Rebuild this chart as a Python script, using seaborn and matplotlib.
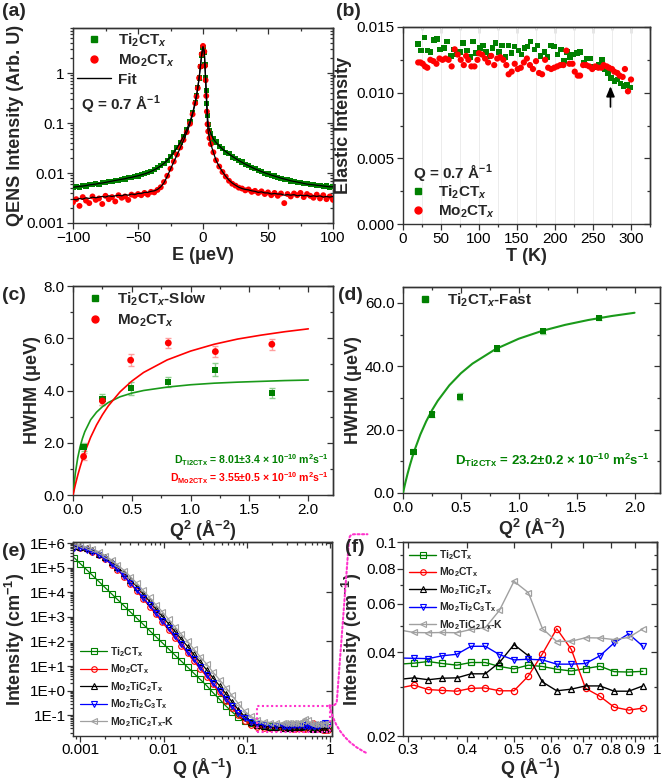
import numpy as np
import pandas as pd
import matplotlib
matplotlib.use("Agg")
import matplotlib.pyplot as plt
import seaborn as sns
from matplotlib.ticker import MultipleLocator, FixedLocator, FixedFormatter, NullFormatter, LogLocator, FormatStrFormatter
from matplotlib.lines import Line2D
from matplotlib.patches import Rectangle, ConnectionPatch

sns.set_style("ticks")
plt.rcParams["font.family"] = ["Liberation Sans", "DejaVu Sans"]
plt.rcParams.update({
    "mathtext.fontset": "custom",
    "mathtext.rm": "Liberation Sans:bold",
    "mathtext.it": "Liberation Sans:bold:italic",
    "mathtext.bf": "Liberation Sans:bold",
    "mathtext.sf": "Liberation Sans:bold",
    "axes.linewidth": 1.0,
    "axes.edgecolor": "#333333",
    "xtick.color": "#333333",
    "ytick.color": "#333333",
    "xtick.labelcolor": "black",
    "ytick.labelcolor": "black",
})

GREEN = "#008000"
RED = "#ff0000"
BLUE = "#0000ff"
GRAY = "#a0a0a0"
BLACK = "#000000"
MAG = "#ff33cc"

# ---------------- (a) QENS spectra at Q = 0.7 1/A ----------------
E_a = [-100, -97.5, -95, -92.5, -90, -87.5, -85, -82.5, -80, -77.5, -75, -72.5, -70, -67.5, -65, -62.5,
       -60, -57.5, -55, -52.5, -50, -47.5, -45, -42.5, -40, -37.5, -35, -32.5, -30, -27.5, -25, -22.5,
       -20, -17.5, -15, -12.5, -10,
       -8, -6, -5, -4, -3, -2, -1, 0, 1, 1.5, 2, 2.5, 3, 3.5, 4, 5, 6, 8,
       10, 12.5, 15, 17.5, 20, 22.5, 25, 27.5, 30, 32.5, 35, 37.5, 40, 42.5, 45, 47.5, 50, 52.5,
       55, 57.5, 60, 62.5, 65, 67.5, 70, 72.5, 75, 77.5, 80, 82.5, 85, 87.5, 90, 92.5, 95, 97.5, 100]
qens_ti = [0.0051, 0.0054, 0.0052, 0.0056, 0.0055, 0.0059, 0.0058, 0.0061, 0.0060, 0.0065, 0.0064, 0.0068,
           0.0067, 0.0071, 0.0072, 0.0075, 0.0076, 0.0080, 0.0081, 0.0086, 0.0087, 0.0093, 0.0097, 0.0102,
           0.0109, 0.0117, 0.0127, 0.0140, 0.0157, 0.0180, 0.0215, 0.026, 0.032, 0.041, 0.054, 0.075, 0.108,
           0.16, 0.26, 0.36, 0.52, 0.80, 1.35, 2.3, 3.3, 2.6, 1.5, 0.8, 0.45, 0.25, 0.14, 0.095, 0.072, 0.062, 0.048,
           0.042, 0.034, 0.031, 0.026, 0.0245, 0.021, 0.0198, 0.0175, 0.0166, 0.0148, 0.0142, 0.0128, 0.0123,
           0.0111, 0.0108, 0.0099, 0.0096, 0.0089, 0.0087, 0.0081, 0.0079, 0.0074, 0.0073, 0.0069, 0.0068,
           0.0064, 0.0064, 0.0061, 0.0061, 0.0058, 0.0058, 0.0056, 0.0056, 0.0054, 0.0055, 0.0052, 0.0054]
qens_mo = [0.0026, 0.0030, 0.0022, 0.0033, 0.0028, 0.0025, 0.0034, 0.0029, 0.0031, 0.0024, 0.0035, 0.0030,
           0.0033, 0.0027, 0.0036, 0.0032, 0.0034, 0.0029, 0.0037, 0.0035, 0.0038, 0.0036, 0.0040, 0.0037,
           0.0042, 0.0041, 0.0046, 0.0052, 0.0066, 0.0088, 0.0122, 0.0170, 0.0235, 0.0325, 0.046, 0.066, 0.097,
           0.15, 0.25, 0.34, 0.50, 0.80, 1.35, 2.4, 3.5, 2.7, 1.4, 0.72, 0.35, 0.17, 0.095, 0.068, 0.050, 0.038, 0.026,
           0.018, 0.0135, 0.0105, 0.0085, 0.0070, 0.0061, 0.0056, 0.0051, 0.0049, 0.0045, 0.0047, 0.0042, 0.0044,
           0.0040, 0.0043, 0.0038, 0.0041, 0.0036, 0.0040, 0.0035, 0.0039, 0.0025, 0.0038, 0.0034, 0.0039,
           0.0036, 0.0040, 0.0033, 0.0038, 0.0035, 0.0032, 0.0037, 0.0031, 0.0036, 0.0030, 0.0034, 0.0029]
fit_ti = [0.0052, 0.0053, 0.0054, 0.0055, 0.0056, 0.0058, 0.0059, 0.0060, 0.0062, 0.0063, 0.0065, 0.0067,
          0.0069, 0.0071, 0.0073, 0.0075, 0.0077, 0.0080, 0.0082, 0.0085, 0.0088, 0.0092, 0.0096, 0.0101,
          0.0108, 0.0116, 0.0126, 0.0139, 0.0156, 0.0180, 0.0213, 0.026, 0.032, 0.041, 0.054, 0.075, 0.107,
          0.16, 0.26, 0.36, 0.52, 0.80, 1.35, 2.3, 3.3, 2.6, 1.5, 0.8, 0.45, 0.25, 0.14, 0.095, 0.072, 0.062, 0.048,
          0.041, 0.035, 0.030, 0.027, 0.024, 0.0216, 0.0196, 0.0178, 0.0164, 0.0151, 0.0140, 0.0130, 0.0121,
          0.0114, 0.0107, 0.0101, 0.0096, 0.0091, 0.0087, 0.0083, 0.0079, 0.0076, 0.0073, 0.0070, 0.0068,
          0.0066, 0.0064, 0.0062, 0.0060, 0.0059, 0.0058, 0.0057, 0.0056, 0.0055, 0.0054, 0.0053, 0.0053]
fit_mo = [0.0030, 0.0029, 0.0031, 0.0030, 0.0032, 0.0031, 0.0033, 0.0032, 0.0033, 0.0034, 0.0033, 0.0035,
          0.0034, 0.0035, 0.0036, 0.0035, 0.0037, 0.0036, 0.0038, 0.0037, 0.0039, 0.0039, 0.0041, 0.0041,
          0.0043, 0.0044, 0.0047, 0.0053, 0.0064, 0.0086, 0.0120, 0.0168, 0.023, 0.032, 0.045, 0.065, 0.096,
          0.15, 0.25, 0.34, 0.50, 0.80, 1.35, 2.4, 3.4, 2.7, 1.4, 0.72, 0.35, 0.17, 0.095, 0.068, 0.050, 0.038, 0.026,
          0.018, 0.0135, 0.0106, 0.0086, 0.0072, 0.0063, 0.0057, 0.0052, 0.0049, 0.0047, 0.0046, 0.0044, 0.0043,
          0.0041, 0.0042, 0.0040, 0.0040, 0.0038, 0.0039, 0.0038, 0.0038, 0.0036, 0.0037, 0.0036, 0.0037,
          0.0035, 0.0036, 0.0035, 0.0036, 0.0034, 0.0035, 0.0034, 0.0035, 0.0033, 0.0034, 0.0033, 0.0034]

# ---------------- (b) elastic intensity vs T ----------------
T_ti = [20, 24, 28, 32, 36, 41, 45, 49, 54, 58, 63, 67, 71, 75, 79, 84, 88, 92, 96, 101, 105, 109, 114, 118,
        122, 126, 130, 135, 139, 143, 147, 152, 156, 160, 164, 168, 173, 177, 181, 186, 190, 195, 199, 203,
        208, 212, 216, 220, 224, 229, 233, 238, 242, 246, 250, 254, 258, 262, 266, 270, 274, 278, 282, 286,
        290, 295, 299]
el_ti = [0.0137, 0.0132, 0.0142, 0.0132, 0.0131, 0.0140, 0.0141, 0.0133, 0.0134, 0.0139, 0.0128, 0.0133,
         0.0129, 0.0131, 0.0138, 0.0132, 0.0127, 0.0139, 0.0130, 0.0134, 0.0136, 0.0131, 0.0128, 0.0134,
         0.0138, 0.0131, 0.0136, 0.0127, 0.0136, 0.0130, 0.0135, 0.0132, 0.0129, 0.0134, 0.0135, 0.0139,
         0.0133, 0.0136, 0.0128, 0.0131, 0.0127, 0.0136, 0.0135, 0.0129, 0.0133, 0.0124, 0.0131, 0.0127,
         0.0129, 0.0130, 0.0131, 0.0123, 0.0126, 0.0126, 0.0120, 0.0119, 0.0121, 0.0125, 0.0118, 0.0115,
         0.0111, 0.0109, 0.0110, 0.0107, 0.0105, 0.0106, 0.0104]
T_mo = [20, 23, 26, 29, 32, 36, 40, 44, 48, 52, 56, 60, 64, 68, 72, 76, 80, 83, 86, 90, 94, 98, 100, 104,
        108, 112, 116, 120, 124, 128, 132, 136, 139, 143, 147, 151, 155, 159, 163, 167, 171, 175, 179, 183,
        187, 191, 195, 199, 203, 207, 211, 215, 219, 223, 226, 230, 233, 237, 241, 245, 249, 253, 257, 261,
        264, 268, 271, 275, 278, 282, 285, 289, 292, 296, 300]
el_mo = [0.0123, 0.0123, 0.0122, 0.0120, 0.0119, 0.0125, 0.0124, 0.0122, 0.0126, 0.0125, 0.0126, 0.0125,
         0.0120, 0.0133, 0.0129, 0.0125, 0.0121, 0.0128, 0.0125, 0.0120, 0.0120, 0.0125, 0.0130, 0.0129,
         0.0126, 0.0123, 0.0128, 0.0121, 0.0126, 0.0127, 0.0125, 0.0121, 0.0114, 0.0116, 0.0122, 0.0118,
         0.0119, 0.0123, 0.0126, 0.0121, 0.0118, 0.0124, 0.0115, 0.0114, 0.0125, 0.0119, 0.0118, 0.0119,
         0.0120, 0.0121, 0.0121, 0.0132, 0.0122, 0.0122, 0.0116, 0.0113, 0.0113, 0.0121, 0.0121, 0.0120,
         0.0118, 0.0120, 0.0119, 0.0119, 0.0121, 0.0120, 0.0119, 0.0118, 0.0116, 0.0115, 0.0113, 0.0112,
         0.0118, 0.0101, 0.0110]

# ---------------- (c), (d) HWHM vs Q^2 ----------------
Q2 = [0.09, 0.25, 0.49, 0.81, 1.21, 1.69]
hw_slow = [1.85, 3.66, 4.09, 4.32, 4.79, 3.90]
hw_slow_err = [0.15, 0.22, 0.25, 0.18, 0.25, 0.2]
hw_mo = [1.47, 3.60, 5.16, 5.82, 5.49, 5.77]
hw_mo_err = [0.12, 0.15, 0.22, 0.2, 0.2, 0.22]
hw_fast = [13.0, 24.8, 30.4, 45.6, 51.1, 55.2]
hw_fast_err = [0.8, 0.8, 1.2, 0.9, 0.8, 0.7]
Q2_fit = [0, 0.02, 0.04, 0.06, 0.08, 0.1, 0.15, 0.2, 0.25, 0.3, 0.4, 0.5, 0.6, 0.8, 1.0, 1.2, 1.4, 1.6, 1.8, 2.0]
fit_slow = [0, 0.84, 1.42, 1.84, 2.16, 2.42, 2.88, 3.17, 3.38, 3.54, 3.76, 3.90, 4.00, 4.13, 4.22, 4.28, 4.32, 4.35, 4.38, 4.40]
fit_mo_c = [0, 0.395, 0.75, 1.07, 1.36, 1.63, 2.21, 2.68, 3.07, 3.41, 3.95, 4.36, 4.69, 5.17, 5.51, 5.77, 5.97, 6.12, 6.25, 6.36]
fit_fast = [0, 3.21, 6.14, 8.81, 11.27, 13.53, 18.47, 22.59, 26.09, 29.09, 33.97, 37.78, 40.82, 45.41, 48.68, 51.14, 53.05, 54.58, 55.83, 56.87]

# ---------------- (e), (f) SANS ----------------
names = ["Ti$_2$CT$_\\mathrm{x}$", "Mo$_2$CT$_\\mathrm{x}$", "Mo$_2$TiC$_2$T$_\\mathrm{x}$",
         "Mo$_2$Ti$_2$C$_3$T$_\\mathrm{x}$", "Mo$_2$TiC$_2$T$_\\mathrm{x}$-K"]
q_low = [0.00085, 0.001, 0.0012, 0.0014, 0.0017, 0.002, 0.0024, 0.0028, 0.0034, 0.004, 0.0048, 0.0057,
         0.0068, 0.0081, 0.0097, 0.0115, 0.0137, 0.0163, 0.0195, 0.023, 0.0275, 0.033, 0.039, 0.047,
         0.056, 0.066, 0.079, 0.094, 0.112, 0.134, 0.16, 0.19, 0.225, 0.268]
low_ti = [2.5e5, 1.47e5, 8.1e4, 4.9e4, 2.6e4, 1.52e4, 8.4e3, 5.1e3, 2.7e3, 1.58e3, 870, 500, 278, 157, 87,
          50, 28, 16, 9, 5.2, 2.9, 1.6, 0.85, 0.45, 0.24, 0.14, 0.085, 0.06, 0.048, 0.042, 0.039, 0.037,
          0.0365, 0.0365]
low_mo = [7e5, 6.5e5, 5.5e5, 4.5e5, 3.2e5, 2.2e5, 1.3e5, 8e4, 4.2e4, 2.2e4, 1.1e4, 5.3e3, 2.6e3, 1.25e3,
          6e2, 2.9e2, 1.4e2, 68, 33, 16, 7.8, 3.7, 1.8, 0.85, 0.4, 0.2, 0.1, 0.06, 0.042, 0.035, 0.032, 0.031,
          0.030, 0.030]
low_motic = [7.5e5, 7e5, 6e5, 5e5, 3.7e5, 2.6e5, 1.65e5, 1.05e5, 5.8e4, 3.2e4, 1.7e4, 8.5e3, 4.3e3, 2.1e3,
             1.05e3, 5.2e2, 2.6e2, 1.25e2, 62, 30, 14.5, 7, 3.4, 1.6, 0.75, 0.36, 0.17, 0.09, 0.055, 0.042,
             0.036, 0.034, 0.033, 0.032]
low_moti2 = [6.5e5, 6.2e5, 5.3e5, 4.4e5, 3.2e5, 2.2e5, 1.35e5, 8.5e4, 4.5e4, 2.4e4, 1.2e4, 6e3, 3e3, 1.45e3,
             7e2, 3.4e2, 1.65e2, 80, 39, 19, 9.2, 4.4, 2.1, 1.0, 0.48, 0.24, 0.12, 0.075, 0.053, 0.045, 0.041,
             0.039, 0.038, 0.038]
low_motick = [8.5e5, 8e5, 7e5, 5.8e5, 4.3e5, 3.1e5, 2e5, 1.3e5, 7.5e4, 4.3e4, 2.3e4, 1.2e4, 6.2e3, 3.1e3,
              1.6e3, 8e2, 4e2, 2e2, 1e2, 50, 24, 12, 5.8, 2.8, 1.35, 0.65, 0.3, 0.15, 0.09, 0.065, 0.055,
              0.051, 0.049, 0.048]
q_f = [0.288, 0.309, 0.331, 0.354, 0.380, 0.407, 0.436, 0.467, 0.501, 0.537, 0.575, 0.616, 0.661, 0.708,
       0.759, 0.813, 0.872, 0.934]
f_ti = [0.0363, 0.0366, 0.0371, 0.0365, 0.0360, 0.0368, 0.0368, 0.0356, 0.0349, 0.0360, 0.0356, 0.0348,
        0.0343, 0.0350, 0.0357, 0.0341, 0.0340, 0.0342]
f_mo = [0.0298, 0.0305, 0.0294, 0.0292, 0.0290, 0.0297, 0.0298, 0.0291, 0.0291, 0.0329, 0.0396, 0.0487,
        0.0410, 0.0297, 0.0278, 0.0254, 0.0248, 0.0252]
f_motic = [0.0320, 0.0324, 0.0319, 0.0323, 0.0324, 0.0335, 0.0335, 0.0368, 0.0427, 0.0389, 0.0313, 0.0291,
           0.0295, 0.0303, 0.0303, 0.0290, 0.0290, 0.0303]
f_moti2 = [0.0382, 0.0381, 0.0380, 0.0389, 0.0394, 0.0421, 0.0421, 0.0393, 0.0376, 0.0378, 0.0376, 0.0363,
           0.0363, 0.0365, 0.0389, 0.0433, 0.0467, 0.0421]
f_motick = [0.0482, 0.0472, 0.0471, 0.0472, 0.0471, 0.0484, 0.0491, 0.0567, 0.0722, 0.0657, 0.0487, 0.0438,
            0.0439, 0.0452, 0.0451, 0.0445, 0.0453, 0.0487]

W, H = 664, 781
fig = plt.figure(figsize=(W / 100, H / 100), dpi=100)


def box(l, t, r, b):
    return [l / W, 1 - b / H, (r - l) / W, (b - t) / H]


def style(ax, xminor=None, yminor=None, pad=2):
    ax.tick_params(which="both", direction="out", labelsize=11, width=0.9, pad=pad)
    ax.tick_params(which="major", length=4)
    ax.tick_params(which="minor", length=2)
    if xminor is not None:
        ax.xaxis.set_minor_locator(xminor)
    if yminor is not None:
        ax.yaxis.set_minor_locator(yminor)
    for s in ax.spines.values():
        s.set_visible(True)


def mirror(ax, xminor=None, yminor=None, xmajor=None, ymajor=None):
    sx = ax.secondary_xaxis("top")
    sy = ax.secondary_yaxis("right")
    for s, lab in ((sx, dict(labeltop=False)), (sy, dict(labelright=False))):
        s.tick_params(which="both", direction="in", width=0.9, **lab)
        s.tick_params(which="major", length=4)
        s.tick_params(which="minor", length=2)
    if xmajor is not None:
        sx.xaxis.set_major_locator(xmajor)
    if ymajor is not None:
        sy.yaxis.set_major_locator(ymajor)
    if xminor is not None:
        sx.xaxis.set_minor_locator(xminor)
    if yminor is not None:
        sy.yaxis.set_minor_locator(yminor)
    sx.xaxis.set_minor_formatter(NullFormatter())
    sy.yaxis.set_minor_formatter(NullFormatter())


LAB = dict(fontsize=13, fontweight="bold")
LEG = dict(weight="bold", size=11)

# ======== (a) ========
ax = fig.add_axes(box(73, 28, 333, 223))
dfa = pd.DataFrame({"E": E_a, "ti": qens_ti, "mo": qens_mo, "fti": fit_ti, "fmo": fit_mo})
sns.scatterplot(data=dfa, x="E", y="ti", marker="s", s=14, color=GREEN, edgecolor="none", ax=ax, zorder=3, legend=False)
sns.scatterplot(data=dfa, x="E", y="mo", marker="o", s=18, color=RED, edgecolor="none", ax=ax, zorder=4, legend=False)
sns.lineplot(data=dfa, x="E", y="fti", color=BLACK, lw=0.9, ax=ax, sort=False, estimator=None, zorder=5)
sns.lineplot(data=dfa, x="E", y="fmo", color=BLACK, lw=0.9, ax=ax, sort=False, estimator=None, zorder=5)
ax.set_yscale("log")
ax.set_xlim(-100, 100)
ax.set_ylim(0.001, 8)
ax.set_xticks([-100, -50, 0, 50, 100])
ax.set_yticks([0.001, 0.01, 0.1, 1])
ax.set_yticklabels(["0.001", "0.01", "0.1", "1"])
ax.yaxis.set_minor_locator(LogLocator(base=10, subs=np.arange(2, 10)))
ax.yaxis.set_minor_formatter(NullFormatter())
style(ax, xminor=MultipleLocator(25))
mirror(ax, xminor=MultipleLocator(25), xmajor=FixedLocator([-100, -50, 0, 50, 100]))
ax.set_xlabel("E (\u03bceV)", labelpad=1, **LAB)
ax.set_ylabel("QENS Intensity (Arb. U)", labelpad=2, **LAB)
hA = [Line2D([], [], marker="s", ls="none", color=GREEN, ms=4.5),
      Line2D([], [], marker="o", ls="none", color=RED, ms=5),
      Line2D([], [], color=BLACK, lw=1)]
ax.legend(hA, ["Ti$_2$CT$_x$", "Mo$_2$CT$_x$", "Fit"], loc="upper left", bbox_to_anchor=(-0.02, 1.03),
          frameon=False, prop=LEG, handlelength=2.2, handletextpad=0.5, labelspacing=0.25, borderaxespad=0.2)
ax.text(0.03, 0.615, "Q = 0.7 \u00c5$^{-1}$", transform=ax.transAxes, fontsize=11, fontweight="bold", va="center")

# ======== (b) ========
ax = fig.add_axes(box(403, 27, 650, 224))
dfb1 = pd.DataFrame({"T": T_ti, "I": el_ti})
dfb2 = pd.DataFrame({"T": T_mo, "I": el_mo})
sns.scatterplot(data=dfb1, x="T", y="I", marker="s", s=16, color=GREEN, edgecolor="none", ax=ax, zorder=3, legend=False)
sns.scatterplot(data=dfb2, x="T", y="I", marker="o", s=20, color=RED, edgecolor="none", ax=ax, zorder=4, legend=False)
ax.set_xlim(0, 325)
ax.set_ylim(0, 0.015)
ax.set_xticks([0, 50, 100, 150, 200, 250, 300])
ax.set_yticks([0, 0.005, 0.010, 0.015])
ax.yaxis.set_major_formatter(FormatStrFormatter("%.3f"))
style(ax, xminor=MultipleLocator(25), yminor=MultipleLocator(0.0025))
mirror(ax, xminor=MultipleLocator(25), yminor=MultipleLocator(0.0025),
       xmajor=MultipleLocator(50), ymajor=MultipleLocator(0.005))
ax.grid(axis="x", which="both", color="#ececec", lw=0.7, zorder=0)
ax.set_axisbelow(True)
ax.set_xlabel("T (K)", labelpad=1, **LAB)
ax.set_ylabel("Elastic Intensity", labelpad=3, **LAB)
ax.annotate("", xy=(273, 0.0107), xytext=(273, 0.0087),
            arrowprops=dict(arrowstyle="-|>,head_length=0.6,head_width=0.25", color="black", lw=1.2))
ax.text(0.04, 0.259, "Q = 0.7 \u00c5$^{-1}$", transform=ax.transAxes, fontsize=11, fontweight="bold", va="center")
hB = [Line2D([], [], marker="s", ls="none", color=GREEN, ms=4.5),
      Line2D([], [], marker="o", ls="none", color=RED, ms=5)]
ax.legend(hB, ["Ti$_2$CT$_x$", "Mo$_2$CT$_x$"], loc="center left", bbox_to_anchor=(0.0, 0.114),
          frameon=False, prop=LEG, handlelength=1.5, handletextpad=0.6, labelspacing=0.2, borderaxespad=0.0,
          borderpad=0.2)

# ======== (c) ========
ax = fig.add_axes(box(73, 286, 333, 495))
ax.errorbar(Q2, hw_slow, yerr=hw_slow_err, fmt="none", ecolor="#8fcf8f", elinewidth=1, capsize=2, zorder=2)
ax.errorbar(Q2, hw_mo, yerr=hw_mo_err, fmt="none", ecolor="#ff9f9f", elinewidth=1, capsize=2, zorder=2)
dfc = pd.DataFrame({"q": Q2, "s": hw_slow, "m": hw_mo})
dff = pd.DataFrame({"q": Q2_fit, "s": fit_slow, "m": fit_mo_c, "f": fit_fast})
sns.lineplot(data=dff, x="q", y="s", color="#1a9a1a", lw=1.2, ax=ax, estimator=None, zorder=3)
sns.lineplot(data=dff, x="q", y="m", color=RED, lw=1.2, ax=ax, estimator=None, zorder=3)
sns.scatterplot(data=dfc, x="q", y="s", marker="s", s=20, color=GREEN, edgecolor="none", ax=ax, zorder=4, legend=False)
sns.scatterplot(data=dfc, x="q", y="m", marker="o", s=24, color=RED, edgecolor="none", ax=ax, zorder=4, legend=False)
ax.set_xlim(0, 2.21)
ax.set_ylim(0, 8)
ax.set_xticks([0, 0.5, 1.0, 1.5, 2.0])
ax.set_yticks([0, 2, 4, 6, 8])
ax.xaxis.set_major_formatter(FormatStrFormatter("%.1f"))
ax.yaxis.set_major_formatter(FormatStrFormatter("%.1f"))
style(ax, xminor=MultipleLocator(0.25), yminor=MultipleLocator(1))
mirror(ax, xminor=MultipleLocator(0.25), yminor=MultipleLocator(1),
       xmajor=MultipleLocator(0.5), ymajor=MultipleLocator(2))
ax.set_xlabel("Q$^2$ (\u00c5$^{-2}$)", labelpad=1, **LAB)
ax.set_ylabel("HWHM (\u03bceV)", labelpad=2, **LAB)
hC = [Line2D([], [], marker="s", ls="none", color=GREEN, ms=4.5),
      Line2D([], [], marker="o", ls="none", color=RED, ms=5)]
ax.legend(hC, ["Ti$_2$CT$_x$-Slow", "Mo$_2$CT$_x$"], loc="upper left", bbox_to_anchor=(0.0, 1.03),
          frameon=False, prop=LEG, handlelength=1.5, handletextpad=0.7, labelspacing=0.3, borderaxespad=0.3)
ax.text(0.985, 0.165, "D$_{\\mathrm{Ti2CTx}}$ = 8.01\u00b13.4 \u00d7 10$^{-10}$ m$^2$s$^{-1}$", color=GREEN,
        transform=ax.transAxes, ha="right", va="center", fontsize=7.6, fontweight="bold")
ax.text(0.985, 0.08, "D$_{\\mathrm{Mo2CTx}}$ = 3.55\u00b10.5 \u00d7 10$^{-10}$ m$^2$s$^{-1}$", color=RED,
        transform=ax.transAxes, ha="right", va="center", fontsize=7.6, fontweight="bold")

# ======== (d) ========
ax = fig.add_axes(box(403, 287, 660, 493))
ax.errorbar(Q2, hw_fast, yerr=hw_fast_err, fmt="none", ecolor="#8fcf8f", elinewidth=1, capsize=2, zorder=2)
dfd = pd.DataFrame({"q": Q2, "f": hw_fast})
sns.lineplot(data=dff, x="q", y="f", color="#1a9a1a", lw=1.5, ax=ax, estimator=None, zorder=3)
sns.scatterplot(data=dfd, x="q", y="f", marker="s", s=20, color=GREEN, edgecolor="none", ax=ax, zorder=4, legend=False)
ax.set_xlim(0, 2.22)
ax.set_ylim(0, 65)
ax.set_xticks([0, 0.5, 1.0, 1.5, 2.0])
ax.set_yticks([0, 20, 40, 60])
ax.xaxis.set_major_formatter(FormatStrFormatter("%.1f"))
ax.yaxis.set_major_formatter(FormatStrFormatter("%.1f"))
style(ax, xminor=MultipleLocator(0.25), yminor=MultipleLocator(10))
mirror(ax, xminor=MultipleLocator(0.25), yminor=MultipleLocator(10),
       xmajor=MultipleLocator(0.5), ymajor=MultipleLocator(20))
ax.set_xlabel("Q$^2$ (\u00c5$^{-2}$)", labelpad=1, **LAB)
ax.set_ylabel("HWHM (\u03bceV)", labelpad=2, **LAB)
ax.legend([Line2D([], [], marker="s", ls="none", color=GREEN, ms=4.5)], ["Ti$_2$CT$_x$-Fast"],
          loc="upper left", bbox_to_anchor=(0.0, 1.03), frameon=False, prop=LEG, handlelength=1.5,
          handletextpad=0.7, borderaxespad=0.3)
ax.text(0.96, 0.16, "D$_{\\mathrm{Ti2CTx}}$ = 23.2\u00b10.2 \u00d7 10$^{-10}$ m$^2$s$^{-1}$", color=GREEN,
        transform=ax.transAxes, ha="right", va="center", fontsize=9.5, fontweight="bold")

# ======== (e) ========
axe = fig.add_axes(box(73, 542, 332, 736))
series_e = [(low_ti + f_ti, GREEN, "s"), (low_mo + f_mo, RED, "o"), (low_motic + f_motic, BLACK, "^"),
            (low_moti2 + f_moti2, BLUE, "v"), (low_motick + f_motick, GRAY, "<")]
qe = q_low + q_f
for vals, c, m in series_e:
    d = pd.DataFrame({"q": qe, "I": vals})
    sns.lineplot(data=d, x="q", y="I", color=c, lw=0.9, marker=m, mfc="none", mec=c, ms=4, mew=0.8,
                 ax=axe, estimator=None, sort=False)
axe.set_xscale("log")
axe.set_yscale("log")
axe.set_xlim(0.00082, 1.05)
axe.set_ylim(0.0145, 1.1e6)
axe.set_xticks([0.001, 0.01, 0.1, 1])
axe.set_xticklabels(["0.001", "0.01", "0.1", "1"])
yt = [1e-1, 1e0, 1e1, 1e2, 1e3, 1e4, 1e5, 1e6]
axe.set_yticks(yt)
axe.set_yticklabels(["1E-1", "1E+0", "1E+1", "1E+2", "1E+3", "1E+4", "1E+5", "1E+6"])
axe.xaxis.set_minor_locator(LogLocator(base=10, subs=np.arange(2, 10)))
axe.yaxis.set_minor_locator(LogLocator(base=10, subs=np.arange(2, 10), numticks=20))
axe.xaxis.set_minor_formatter(NullFormatter())
axe.yaxis.set_minor_formatter(NullFormatter())
style(axe, pad=1)
mirror(axe)
axe.set_xlabel("Q (\u00c5$^{-1}$)", labelpad=0, **LAB)
axe.set_ylabel("Intensity (cm$^{-1}$)", labelpad=2, **LAB)
hE = [Line2D([], [], color=c, lw=0.9, marker=m, mfc="none", mec=c, ms=4, mew=0.8) for _, c, m in series_e]
axe.legend(hE, names, loc="lower left", bbox_to_anchor=(0.0, 0.0), frameon=False,
           prop=dict(weight="bold", size=7.5), handlelength=2.6, handletextpad=0.3, labelspacing=0.35,
           borderaxespad=0.3)
axe.add_patch(Rectangle((0.131, 0.021), 0.98 - 0.131, 0.25 - 0.021, fill=False, ls=(0, (1, 1.2)),
                        ec=MAG, lw=1.5, zorder=6))

# ======== (f) ========
axf = fig.add_axes(box(403, 542, 657, 736))
series_f = [(f_ti, GREEN, "s"), (f_mo, RED, "o"), (f_motic, BLACK, "^"), (f_moti2, BLUE, "v"), (f_motick, GRAY, "<")]
for vals, c, m in series_f:
    d = pd.DataFrame({"q": q_f, "I": vals})
    sns.lineplot(data=d, x="q", y="I", color=c, lw=1.0, marker=m, mfc="none", mec=c, ms=4.5, mew=0.9,
                 ax=axf, estimator=None, sort=False)
axf.set_xscale("log")
axf.set_yscale("log")
axf.set_xlim(0.293, 1.0)
axf.set_ylim(0.02, 0.1)
xt = [0.3, 0.4, 0.5, 0.6, 0.7, 0.8, 0.9, 1.0]
axf.xaxis.set_major_locator(FixedLocator(xt))
axf.xaxis.set_major_formatter(FixedFormatter(["0.3", "0.4", "0.5", "0.6", "0.7", "0.8", "0.9", "1"]))
axf.xaxis.set_minor_locator(FixedLocator([0.32, 0.34, 0.36, 0.38, 0.42, 0.44, 0.46, 0.48, 0.52, 0.54, 0.56, 0.58,
                                          0.62, 0.64, 0.66, 0.68, 0.72, 0.74, 0.76, 0.78, 0.82, 0.84, 0.86,
                                          0.88, 0.92, 0.94, 0.96, 0.98]))
axf.xaxis.set_minor_formatter(NullFormatter())
ytf = [0.02, 0.04, 0.06, 0.08, 0.1]
axf.yaxis.set_major_locator(FixedLocator(ytf))
axf.yaxis.set_major_formatter(FixedFormatter(["0.02", "0.04", "0.06", "0.08", "0.1"]))
axf.yaxis.set_minor_locator(FixedLocator([0.03, 0.05, 0.07, 0.09]))
axf.yaxis.set_minor_formatter(NullFormatter())
style(axf, pad=1)
mirror(axf, xmajor=FixedLocator(xt), ymajor=FixedLocator(ytf))
axf.set_xlabel("Q (\u00c5$^{-1}$)", labelpad=0, **LAB)
axf.set_ylabel("Intensity (cm$^{-1}$)", labelpad=2, **LAB)
hF = [Line2D([], [], color=c, lw=1.0, marker=m, mfc="none", mec=c, ms=4, mew=0.8) for _, c, m in series_f]
axf.legend(hF, names, loc="upper left", bbox_to_anchor=(0.0, 1.0), frameon=False,
           prop=dict(weight="bold", size=7.5), handlelength=2.6, handletextpad=0.3, labelspacing=0.35,
           borderaxespad=0.2)

# connectors (zoom bracket)
con1 = ConnectionPatch(xyA=(0.98, 0.25), coordsA="data", axesA=axe, xyB=(-0.14, 1.04), coordsB="axes fraction",
                       axesB=axf, connectionstyle="arc,angleA=0,angleB=180,armA=7,armB=18,rad=5",
                       ls=(0, (1, 1.2)), color=MAG, lw=1.5)
con2 = ConnectionPatch(xyA=(0.98, 0.25), coordsA="data", axesA=axe, xyB=(-0.14, -0.09), coordsB="axes fraction",
                       axesB=axf, connectionstyle="arc3,rad=0.25", ls=(0, (1, 1.2)), color=MAG, lw=1.5)
fig.add_artist(con1)
fig.add_artist(con2)

# panel labels
for lbl, x, y in [("(a)", 2, 12), ("(b)", 336, 12), ("(c)", 2, 296), ("(d)", 338, 295), ("(e)", 2, 551),
                  ("(f)", 345, 547)]:
    fig.text(x / W, 1 - y / H, lbl, fontsize=14, fontweight="bold", va="center", ha="left")

fig.savefig("out.png", dpi=100)
